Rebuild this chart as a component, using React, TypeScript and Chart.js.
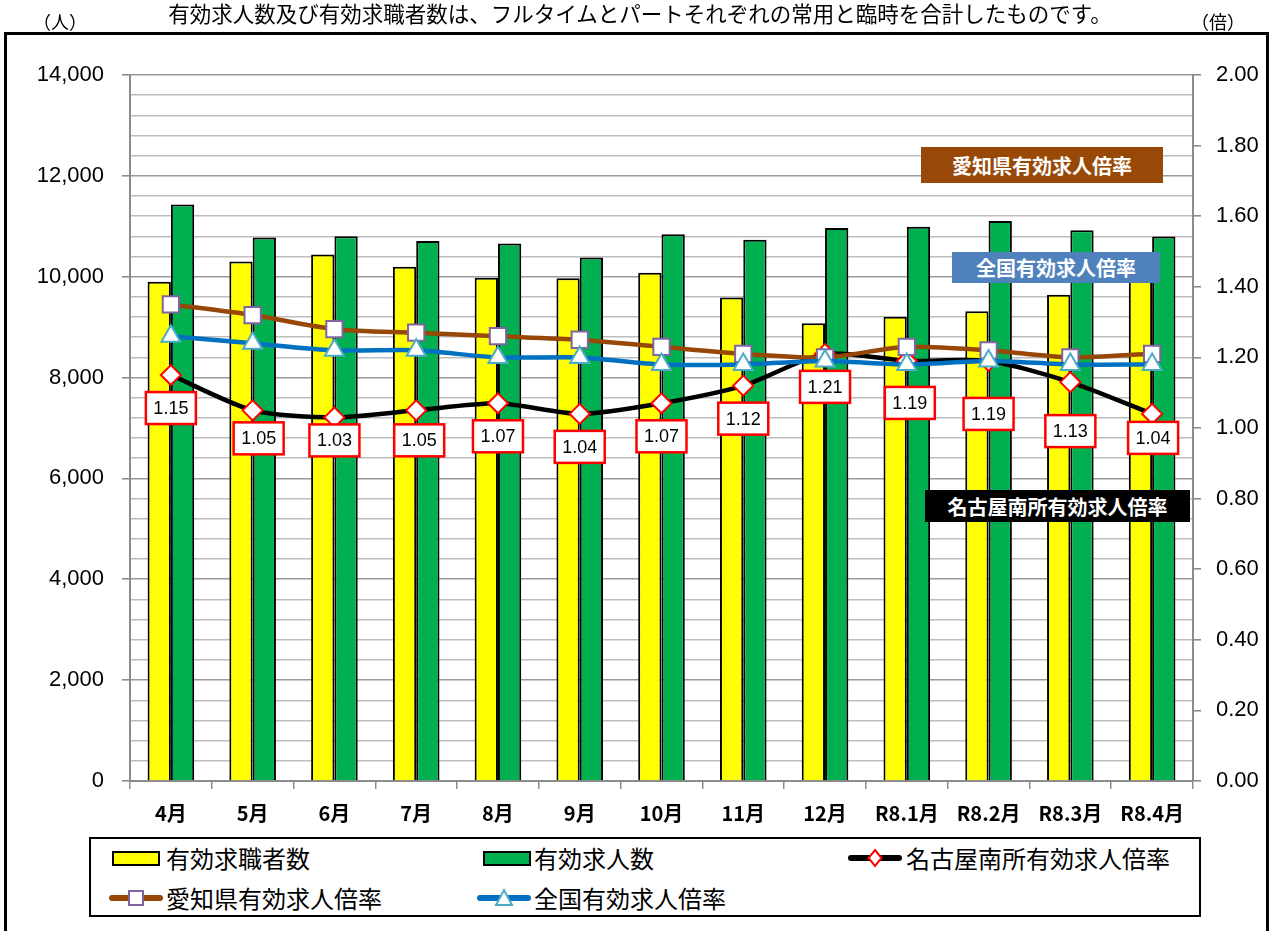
import React, { useEffect, useRef } from 'react';
import { Chart, registerables } from 'chart.js';

Chart.register(...registerables);

// ---- data ----
const categories = ['4月', '5月', '6月', '7月', '8月', '9月', '10月', '11月', '12月', 'R8.1月', 'R8.2月', 'R8.3月', 'R8.4月'];
const jobSeekers = [9900, 10300, 10440, 10200, 9980, 9970, 10080, 9590, 9075, 9205, 9315, 9640, 10380];
const jobOpenings = [11430, 10780, 10800, 10710, 10660, 10380, 10840, 10735, 10965, 10990, 11105, 10920, 10795];
const nagoyaMinamiRatio = [1.15, 1.05, 1.03, 1.05, 1.07, 1.04, 1.07, 1.12, 1.21, 1.19, 1.19, 1.13, 1.04];
const aichiRatio = [1.35, 1.32, 1.28, 1.27, 1.26, 1.25, 1.23, 1.21, 1.2, 1.23, 1.22, 1.2, 1.21];
const nationalRatio = [1.26, 1.24, 1.22, 1.22, 1.2, 1.2, 1.18, 1.18, 1.19, 1.18, 1.19, 1.18, 1.18];

const leftMax = 14000;
const leftMajorStep = 2000;
const leftMinorStep = 400;
const rightMax = 2;
const rightStep = 0.2;

const titleText = '有効求人数及び有効求職者数は、フルタイムとパートそれぞれの常用と臨時を合計したものです。';
const leftUnit = '（人）';
const rightUnit = '（倍）';
const seriesNames = ['有効求職者数', '有効求人数', '名古屋南所有効求人倍率', '愛知県有効求人倍率', '全国有効求人倍率'];

// label box placement (style, not data)
const ratioLabelShiftX = [0, 6, 0, 3, 0, 0, 0, 0, 0, 3, 0, 0, 1];
const ratioLabelShiftY = [17, 12, 7, 14, 17, 17, 17, 17, 17, 26, 37, 33, 8];

const FONT_JP = "'Noto Sans CJK JP', 'Noto Sans', sans-serif";
const FONT_NUM = "'Liberation Sans', 'Noto Sans CJK JP', sans-serif";

const AXIS_GRAY = '#8c8c8c';

const ratioLabelPlugin = {
  id: 'ratioLabels',
  afterDatasetsDraw(chart: any) {
    const meta = chart.getDatasetMeta(2);
    const ctx = chart.ctx;
    ctx.save();
    meta.data.forEach((pt: any, i: number) => {
      const w = 50;
      const h = 32;
      const cx = pt.x + ratioLabelShiftX[i];
      const top = pt.y + ratioLabelShiftY[i];
      ctx.fillStyle = '#ffffff';
      ctx.fillRect(cx - w / 2, top, w, h);
      ctx.strokeStyle = '#ff0000';
      ctx.lineWidth = 2.5;
      ctx.strokeRect(cx - w / 2, top, w, h);
      ctx.fillStyle = '#000000';
      ctx.font = `18px ${FONT_NUM}`;
      ctx.textAlign = 'center';
      ctx.textBaseline = 'middle';
      ctx.fillText(nagoyaMinamiRatio[i].toFixed(2), cx, top + h / 2 + 1);
    });
    ctx.restore();
  },
};

const abs = (left: number, top: number, extra: React.CSSProperties = {}): React.CSSProperties => ({
  position: 'absolute',
  left,
  top,
  ...extra,
});

function LineSample({ color, marker }: { color: string; marker: 'diamond' | 'square' | 'triangle' }) {
  return (
    <svg width={54} height={24} style={{ display: 'block' }}>
      <line x1={3} y1={12} x2={51} y2={12} stroke={color} strokeWidth={6} strokeLinecap="round" />
      {marker === 'diamond' && <polygon points="27,4 33.5,12 27,20 20.5,12" fill="#fff" stroke="#ff0000" strokeWidth={2} />}
      {marker === 'square' && <rect x={20} y={5} width={14} height={14} fill="#fff" stroke="#8064A2" strokeWidth={2} />}
      {marker === 'triangle' && <polygon points="27,4 35,19 19,19" fill="#fff" stroke="#4BACC6" strokeWidth={2} />}
    </svg>
  );
}

export default function App() {
  const canvasRef = useRef<HTMLCanvasElement | null>(null);

  useEffect(() => {
    if (!canvasRef.current) return;
    const chart = new Chart(canvasRef.current, {
      type: 'bar',
      data: {
        labels: categories,
        datasets: [
          {
            type: 'bar',
            label: seriesNames[0],
            data: jobSeekers,
            backgroundColor: '#FFFF00',
            borderColor: '#000000',
            borderWidth: 2,
            yAxisID: 'y',
            order: 3,
            categoryPercentage: 0.57,
            barPercentage: 1,
          },
          {
            type: 'bar',
            label: seriesNames[1],
            data: jobOpenings,
            backgroundColor: '#00B050',
            borderColor: '#000000',
            borderWidth: 2,
            yAxisID: 'y',
            order: 4,
            categoryPercentage: 0.57,
            barPercentage: 1,
          },
          {
            type: 'line',
            label: seriesNames[2],
            data: nagoyaMinamiRatio,
            yAxisID: 'y1',
            borderColor: '#000000',
            borderWidth: 4.5,
            pointStyle: 'rectRot',
            pointRadius: 10,
            pointBackgroundColor: '#ffffff',
            pointBorderColor: '#ff0000',
            pointBorderWidth: 2,
            tension: 0.25,
            order: 2,
          },
          {
            type: 'line',
            label: seriesNames[3],
            data: aichiRatio,
            yAxisID: 'y1',
            borderColor: '#974706',
            borderWidth: 4.5,
            pointStyle: 'rect',
            pointRadius: 11.5,
            pointBackgroundColor: '#ffffff',
            pointBorderColor: '#8064A2',
            pointBorderWidth: 2,
            tension: 0.25,
            order: 1,
          },
          {
            type: 'line',
            label: seriesNames[4],
            data: nationalRatio,
            yAxisID: 'y1',
            borderColor: '#0070C0',
            borderWidth: 4.5,
            pointStyle: 'triangle',
            pointRadius: 11,
            pointBackgroundColor: '#ffffff',
            pointBorderColor: '#4BACC6',
            pointBorderWidth: 2,
            tension: 0.25,
            order: 0,
          },
        ] as any,
      },
      options: {
        responsive: false,
        animation: false,
        devicePixelRatio: 1,
        layout: { padding: { top: 75, bottom: 90, left: 0, right: 0 } },
        plugins: {
          legend: { display: false },
          tooltip: { enabled: false },
          title: { display: false },
        },
        scales: {
          x: {
            offset: true,
            grid: {
              drawOnChartArea: false,
              offset: true,
              tickLength: 8,
              tickColor: AXIS_GRAY,
              lineWidth: 1.5,
            },
            border: { color: AXIS_GRAY, width: 2 },
            ticks: {
              color: '#000',
              font: { family: FONT_JP, size: 20, weight: 'bold' },
              padding: 12,
              maxRotation: 0,
              autoSkip: false,
            },
            afterFit: (s: any) => {
              s.height = 60;
            },
          },
          y: {
            position: 'left',
            min: 0,
            max: leftMax,
            ticks: {
              stepSize: leftMinorStep,
              autoSkip: false,
              color: '#000',
              font: { family: FONT_NUM, size: 22 },
              padding: 18,
              callback: (v: any) => (Number(v) % leftMajorStep === 0 ? Number(v).toLocaleString('en-US') : ''),
            },
            grid: {
              color: (c: any) => (c.tick && c.tick.value % leftMajorStep === 0 ? '#9a9a9a' : '#bdbdbd'),
              lineWidth: 1.6,
              tickLength: 8,
              tickColor: (c: any) => (c.tick && c.tick.value % leftMajorStep === 0 ? AXIS_GRAY : 'rgba(0,0,0,0)'),
            },
            border: { color: AXIS_GRAY, width: 2 },
            afterFit: (s: any) => {
              s.width = 130;
            },
          },
          y1: {
            position: 'right',
            min: 0,
            max: rightMax,
            ticks: {
              stepSize: rightStep,
              color: '#000',
              font: { family: FONT_NUM, size: 22 },
              padding: 15,
              callback: (v: any) => Number(v).toFixed(2),
            },
            grid: {
              drawOnChartArea: false,
              tickLength: 8,
              tickColor: AXIS_GRAY,
              lineWidth: 1.6,
            },
            border: { color: AXIS_GRAY, width: 2 },
            afterFit: (s: any) => {
              s.width = 76;
            },
          },
        },
      } as any,
      plugins: [ratioLabelPlugin],
    });
    return () => chart.destroy();
  }, []);

  const legendText: React.CSSProperties = {
    fontFamily: FONT_JP,
    fontSize: 24,
    lineHeight: '30px',
    color: '#000',
    whiteSpace: 'nowrap',
  };

  const tagStyle = (bg: string, w: number, h: number): React.CSSProperties => ({
    width: w,
    height: h,
    background: bg,
    color: '#fff',
    fontFamily: FONT_JP,
    fontWeight: 'bold',
    fontSize: 20,
    display: 'flex',
    alignItems: 'center',
    justifyContent: 'center',
    whiteSpace: 'nowrap',
  });

  return (
    <div style={{ position: 'absolute', left: 0, top: 0, width: 1269, height: 931, overflow: 'hidden', background: '#fff' }}>
      {/* outer frame */}
      <div style={abs(4, 32, { width: 1265, height: 960, border: '3px solid #000', boxSizing: 'border-box' })} />
      <canvas ref={canvasRef} width={1269} height={931} style={{ position: 'absolute', left: 0, top: 0, width: 1269, height: 931 }} />

      {/* title and units */}
      <div style={abs(0, -2, { width: 1280, textAlign: 'center', fontFamily: FONT_JP, fontSize: 21.5, lineHeight: '30px', whiteSpace: 'nowrap' })}>{titleText}</div>
      <div style={abs(33, 7, { fontFamily: FONT_JP, fontSize: 18, lineHeight: '28px' })}>{leftUnit}</div>
      <div style={abs(1191, 7, { fontFamily: FONT_JP, fontSize: 18, lineHeight: '28px' })}>{rightUnit}</div>

      {/* series tags */}
      <div style={abs(921, 147, tagStyle('#984807', 242, 36))}>{seriesNames[3]}</div>
      <div style={abs(952, 252, tagStyle('#4F81BD', 208, 31))}>{seriesNames[4]}</div>
      <div style={abs(925, 490, tagStyle('#000000', 265, 32))}>{seriesNames[2]}</div>

      {/* legend */}
      <div style={abs(89, 837, { width: 1112, height: 80, border: '2px solid #000', boxSizing: 'border-box', background: '#fff' })} />
      <div style={abs(112, 851, { width: 48, height: 15, background: '#FFFF00', border: '2px solid #000', boxSizing: 'border-box' })} />
      <div style={abs(166, 843, legendText)}>{seriesNames[0]}</div>
      <div style={abs(483, 851, { width: 48, height: 15, background: '#00B050', border: '2px solid #000', boxSizing: 'border-box' })} />
      <div style={abs(534, 843, legendText)}>{seriesNames[1]}</div>
      <div style={abs(848, 846)}>
        <LineSample color="#000000" marker="diamond" />
      </div>
      <div style={abs(906, 843, legendText)}>{seriesNames[2]}</div>
      <div style={abs(109, 886)}>
        <LineSample color="#974706" marker="square" />
      </div>
      <div style={abs(166, 883, legendText)}>{seriesNames[3]}</div>
      <div style={abs(477, 886)}>
        <LineSample color="#0070C0" marker="triangle" />
      </div>
      <div style={abs(534, 883, legendText)}>{seriesNames[4]}</div>
    </div>
  );
}
